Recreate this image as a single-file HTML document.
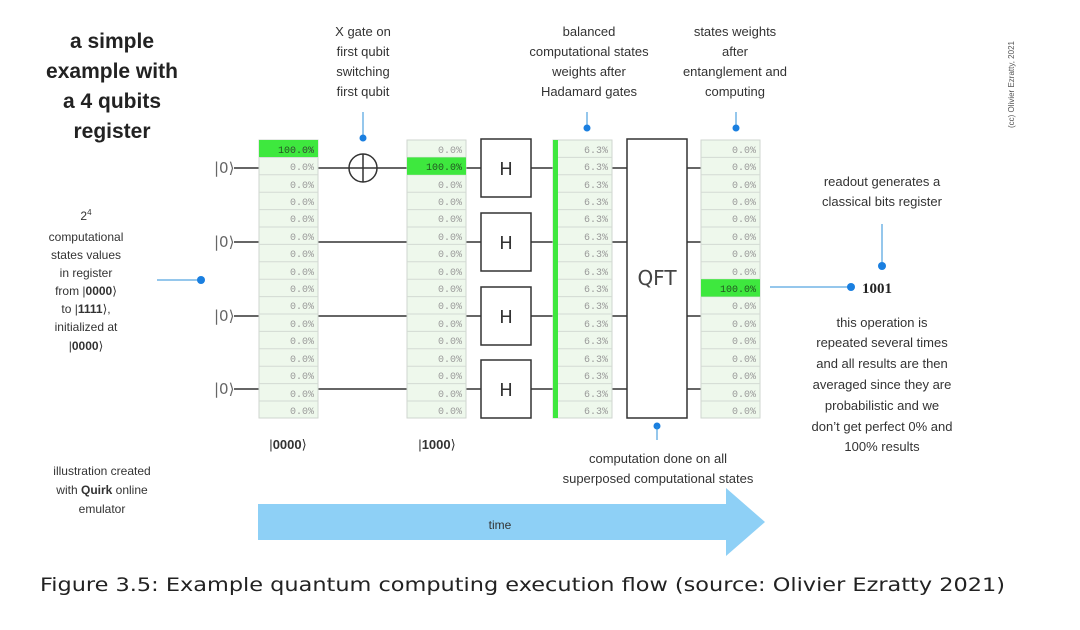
<!DOCTYPE html>
<html><head><meta charset="utf-8"><style>
html,body{margin:0;padding:0;background:#fff;width:1080px;height:630px;overflow:hidden}
svg{display:block}
.t{font-family:"Liberation Sans","DejaVu Sans",sans-serif;fill:#333;font-size:13px}
.c{font-family:"Liberation Mono",monospace;font-size:10px;fill:#9a9a9a;text-anchor:end}
.k{font-family:"DejaVu Sans",sans-serif;font-size:15px;fill:#666}
</style></head><body>
<svg width="1080" height="630" viewBox="0 0 1080 630" xmlns="http://www.w3.org/2000/svg">
<defs>
<g id="grid">
<rect x="0" y="140" width="59" height="278" fill="#eef8ec" stroke="#cfd6cf"/>
<g stroke="#d3dad3" stroke-width="1">
<line x1="0" x2="59" y1="157.4" y2="157.4"/><line x1="0" x2="59" y1="174.8" y2="174.8"/><line x1="0" x2="59" y1="192.2" y2="192.2"/><line x1="0" x2="59" y1="209.6" y2="209.6"/><line x1="0" x2="59" y1="227" y2="227"/><line x1="0" x2="59" y1="244.4" y2="244.4"/><line x1="0" x2="59" y1="261.8" y2="261.8"/><line x1="0" x2="59" y1="279.2" y2="279.2"/><line x1="0" x2="59" y1="296.6" y2="296.6"/><line x1="0" x2="59" y1="314" y2="314"/><line x1="0" x2="59" y1="331.4" y2="331.4"/><line x1="0" x2="59" y1="348.8" y2="348.8"/><line x1="0" x2="59" y1="366.2" y2="366.2"/><line x1="0" x2="59" y1="383.6" y2="383.6"/><line x1="0" x2="59" y1="401" y2="401"/>
</g></g>
<g id="zeros" class="c">
<text x="55" y="153">0.0%</text><text x="55" y="170">0.0%</text><text x="55" y="188">0.0%</text><text x="55" y="205">0.0%</text><text x="55" y="222">0.0%</text><text x="55" y="240">0.0%</text><text x="55" y="257">0.0%</text><text x="55" y="275">0.0%</text><text x="55" y="292">0.0%</text><text x="55" y="309">0.0%</text><text x="55" y="327">0.0%</text><text x="55" y="344">0.0%</text><text x="55" y="362">0.0%</text><text x="55" y="379">0.0%</text><text x="55" y="397">0.0%</text><text x="55" y="414">0.0%</text>
</g>
</defs>

<text class="t" style="font-size:21px;font-weight:bold;fill:#222" text-anchor="middle"><tspan x="112" y="48">a simple</tspan><tspan x="112" y="78">example with</tspan><tspan x="112" y="108">a 4 qubits</tspan><tspan x="112" y="138">register</tspan></text>

<text class="t" style="font-size:12px" text-anchor="middle"><tspan x="86" y="220">2<tspan dy="-5" font-size="8">4</tspan></tspan><tspan x="86" y="241">computational</tspan><tspan x="86" y="259">states values</tspan><tspan x="86" y="277">in register</tspan><tspan x="86" y="295">from |<tspan font-weight="bold">0000</tspan>⟩</tspan><tspan x="86" y="313">to |<tspan font-weight="bold">1111</tspan>⟩,</tspan><tspan x="86" y="331">initialized at</tspan><tspan x="86" y="350">|<tspan font-weight="bold">0000</tspan>⟩</tspan></text>
<line x1="157" y1="280" x2="201" y2="280" stroke="#2b8fd8"/><circle cx="201" cy="280" r="4" fill="#1a7fe0"/>

<text class="t" style="font-size:12px" text-anchor="middle"><tspan x="102" y="475">illustration created</tspan><tspan x="102" y="494">with <tspan font-weight="bold">Quirk</tspan> online</tspan><tspan x="102" y="513">emulator</tspan></text>

<g stroke="#333" stroke-width="1.5">
<line x1="234" y1="168" x2="760" y2="168"/><line x1="234" y1="242" x2="760" y2="242"/><line x1="234" y1="316" x2="760" y2="316"/><line x1="234" y1="389" x2="760" y2="389"/>
</g>
<g class="k"><text x="214" y="173">|0⟩</text><text x="214" y="247">|0⟩</text><text x="214" y="321">|0⟩</text><text x="214" y="394">|0⟩</text></g>

<g transform="translate(259,0)"><use href="#grid"/><rect x="0" y="140" width="59" height="17" fill="#3ee83e"/><use href="#zeros"/><text class="c" x="55" y="153" style="fill:#225522">100.0%</text></g>
<circle cx="363" cy="168" r="14" fill="#fff" stroke="#333" stroke-width="1.5"/><line x1="349" y1="168" x2="377" y2="168" stroke="#333" stroke-width="1.5"/><line x1="363" y1="154" x2="363" y2="182" stroke="#333" stroke-width="1.5"/>
<line x1="363" y1="112" x2="363" y2="138" stroke="#2b8fd8"/><circle cx="363" cy="138" r="3.5" fill="#1a7fe0"/>
<g transform="translate(407,0)"><use href="#grid"/><rect x="0" y="157.4" width="59" height="17.4" fill="#3ee83e"/><use href="#zeros"/><rect x="1" y="159" width="57" height="14" fill="#3ee83e"/><text class="c" x="55" y="170" style="fill:#225522">100.0%</text></g>
<g fill="#fff" stroke="#333" stroke-width="1.5">
<rect x="481" y="139" width="50" height="58"/><rect x="481" y="213" width="50" height="58"/><rect x="481" y="287" width="50" height="58"/><rect x="481" y="360" width="50" height="58"/>
</g>
<g class="k" style="font-size:18px;fill:#333" text-anchor="middle"><text x="506" y="175">H</text><text x="506" y="249">H</text><text x="506" y="323">H</text><text x="506" y="396">H</text></g>
<g transform="translate(553,0)"><use href="#grid"/><rect x="0" y="140" width="5" height="278" fill="#3ee83e"/>
<g class="c"><text x="55" y="153">6.3%</text><text x="55" y="170">6.3%</text><text x="55" y="188">6.3%</text><text x="55" y="205">6.3%</text><text x="55" y="222">6.3%</text><text x="55" y="240">6.3%</text><text x="55" y="257">6.3%</text><text x="55" y="275">6.3%</text><text x="55" y="292">6.3%</text><text x="55" y="309">6.3%</text><text x="55" y="327">6.3%</text><text x="55" y="344">6.3%</text><text x="55" y="362">6.3%</text><text x="55" y="379">6.3%</text><text x="55" y="397">6.3%</text><text x="55" y="414">6.3%</text></g></g>
<line x1="587" y1="112" x2="587" y2="128" stroke="#2b8fd8"/><circle cx="587" cy="128" r="3.5" fill="#1a7fe0"/>
<rect x="627" y="139" width="60" height="279" fill="#fff" stroke="#333" stroke-width="1.5"/>
<text x="657" y="285" class="k" style="font-size:20px;fill:#444" text-anchor="middle">QFT</text>
<circle cx="657" cy="426" r="3.5" fill="#1a7fe0"/><line x1="657" y1="426" x2="657" y2="440" stroke="#2b8fd8"/>
<g transform="translate(701,0)"><use href="#grid"/><use href="#zeros"/><rect x="0" y="279.2" width="59" height="17.4" fill="#3ee83e"/><text class="c" x="55" y="292" style="fill:#225522">100.0%</text></g>
<line x1="736" y1="112" x2="736" y2="128" stroke="#2b8fd8"/><circle cx="736" cy="128" r="3.5" fill="#1a7fe0"/>

<text class="t" text-anchor="middle"><tspan x="363" y="36">X gate on</tspan><tspan x="363" y="56">first qubit</tspan><tspan x="363" y="76">switching</tspan><tspan x="363" y="96">first qubit</tspan></text>
<text class="t" text-anchor="middle"><tspan x="589" y="36">balanced</tspan><tspan x="589" y="56">computational states</tspan><tspan x="589" y="76">weights after</tspan><tspan x="589" y="96">Hadamard gates</tspan></text>
<text class="t" text-anchor="middle"><tspan x="735" y="36">states weights</tspan><tspan x="735" y="56">after</tspan><tspan x="735" y="76">entanglement and</tspan><tspan x="735" y="96">computing</tspan></text>

<text class="t" x="288" y="449" text-anchor="middle">|<tspan font-weight="bold">0000</tspan>⟩</text>
<text class="t" x="437" y="449" text-anchor="middle">|<tspan font-weight="bold">1000</tspan>⟩</text>
<text class="t" text-anchor="middle"><tspan x="658" y="463">computation done on all</tspan><tspan x="658" y="483">superposed computational states</tspan></text>

<text class="t" text-anchor="middle"><tspan x="882" y="186">readout generates a</tspan><tspan x="882" y="206">classical bits register</tspan></text>
<line x1="882" y1="224" x2="882" y2="266" stroke="#2b8fd8"/><circle cx="882" cy="266" r="4" fill="#1a7fe0"/>
<line x1="770" y1="287" x2="851" y2="287" stroke="#2b8fd8"/><circle cx="851" cy="287" r="4" fill="#1a7fe0"/>
<text x="862" y="293" style="font-family:'Liberation Serif',serif;font-weight:bold;font-size:15px;fill:#222">1001</text>
<text class="t" text-anchor="middle"><tspan x="882" y="327">this operation is</tspan><tspan x="882" y="347">repeated several times</tspan><tspan x="882" y="368">and all results are then</tspan><tspan x="882" y="389">averaged since they are</tspan><tspan x="882" y="410">probabilistic and we</tspan><tspan x="882" y="431">don’t get perfect 0% and</tspan><tspan x="882" y="451">100% results</tspan></text>

<text transform="translate(1014,128) rotate(-90)" style="font-family:'Liberation Sans',sans-serif;font-size:8px;fill:#555">(cc) Olivier Ezratty, 2021</text>

<polygon points="258,504 726,504 726,488 765,522 726,556 726,540 258,540" fill="#8ed0f6"/>
<text class="t" x="500" y="529" text-anchor="middle" style="font-size:12px">time</text>

<text x="40" y="591" textLength="965" lengthAdjust="spacingAndGlyphs" style="font-family:'DejaVu Sans',sans-serif;font-size:19px;fill:#222">Figure 3.5: Example quantum computing execution flow (source: Olivier Ezratty 2021)</text>
</svg>
</body></html>
